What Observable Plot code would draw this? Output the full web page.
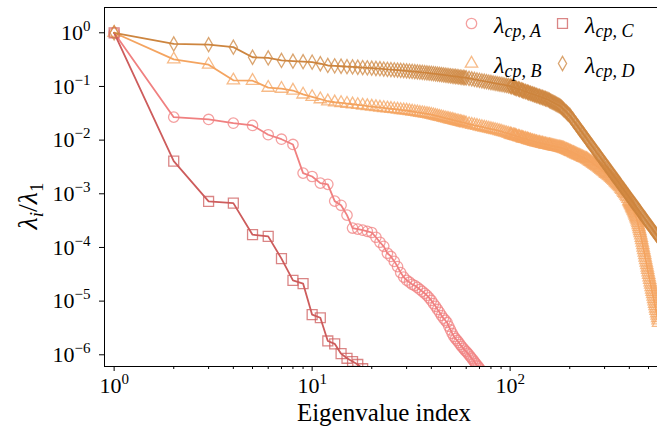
<!DOCTYPE html>
<html><head><meta charset="utf-8">
<script src="https://cdn.jsdelivr.net/npm/d3@7"></script>
<script src="https://cdn.jsdelivr.net/npm/@observablehq/plot@0.6"></script>
<style>
html,body{margin:0;padding:0;background:#fff;}
#chart{width:657px;height:432px;overflow:hidden;}
</style></head><body><div id="chart"></div>
<script>
// ---- data ----
const xDomain = [0.894, 555];
const yDomain = [6.05e-7, 2.96];
const xMajor = [1, 10, 100];
const xMinor = [2,3,4,5,6,7,8,9,20,30,40,50,60,70,80,90,200,300,400,500];
const yMajor = [1, 1e-1, 1e-2, 1e-3, 1e-4, 1e-5, 1e-6];

const xA = [1,2,3,4,5,6,7,8,9,10,11,12,13,14,15,16,17,18,19,20,21,22,23,24,25,26,27,28,29,30,31,32,33,34,35,36,37,38,39,40,41,42,43,44,45,46,47,48,49,50,51,52,53,54,55,56,57,58,59,60,61,62,63,64,65,66,67,68,69,70,71,72];
const yA = [1,0.0268,0.0243,0.0207,0.0188,0.0126,0.0104,0.0083,0.00243,0.0021,0.00158,0.0015,7.3e-4,6.1e-4,4.0e-4,2.3e-4,2.2e-4,2.1e-4,2.0e-4,1.9e-4,1.55e-4,1.25e-4,1.05e-4,7.8e-5,6.8e-5,5.5e-5,4.4e-5,3.4e-5,2.8e-5,2.45e-5,2.25e-5,2.05e-5,1.95e-5,1.8e-5,1.65e-5,1.52e-5,1.4e-5,1.28e-5,1.15e-5,1.03e-5,9.0e-6,8.0e-6,7.0e-6,6.2e-6,5.4e-6,4.8e-6,4.4e-6,4.0e-6,3.4e-6,2.9e-6,2.5e-6,2.2e-6,2.0e-6,1.85e-6,1.7e-6,1.55e-6,1.42e-6,1.32e-6,1.22e-6,1.15e-6,1.07e-6,1.0e-6,9.2e-7,8.6e-7,8.0e-7,7.4e-7,6.9e-7,6.4e-7,6.0e-7,5.6e-7,5.2e-7,4.8e-7];

const xB = [1,2,3,4,5,6,7,8,9,10,11,12,13,14,15,16,17,18,19,20,21,22,23,24,25,26,27,28,29,30,
  31,32,33,34,35,36,37,38,39,40,41,42,43,44,45,46,47,48,49,50,51,52,53,54,55,56,57,58,59,60,
  62,64,66,68,70,72,74,76,78,80,82,84,86,88,90,92,94,96,98,
  100,101,102,104,105,106,107,108,110,111,112,114,115,116,117,119,120,122,123,124,
  126,127,129,130,132,133,135,136,138,140,141,143,145,146,148,150,151,153,155,157,
  158,160,162,164,166,168,170,172,174,176,178,180,182,184,186,188,191,193,195,197,
  200,202,204,207,209,211,214,216,219,221,224,226,229,232,234,237,240,243,245,248,
  251,254,257,260,263,266,269,272,275,279,282,285,288,292,295,299,302,305,309,313,
  316,320,324,327,331,335,339,343,347,351,355,
  359,363,367,372,376,380,385,389,394,398,
  400,403,405,407,410,412,414,417,419,422,424,427,429,432,434,437,439,442,444,447,
  449,452,454,457,460,462,465,468,470,473,476,479,481,484,487,490,493,495,498,501,
  504,507,510,513,516,519,522,525,528,531,534,537,540,543,546,550,553,556,559,562];
const yB = [1,0.32,0.255,0.13,0.128,0.095,0.091,0.084,0.071,0.064,0.058,0.053,0.0508,0.0493,0.0478,0.0466,0.0454,0.0443,0.0431,0.0422,0.0413,0.0406,0.0398,0.0391,0.0384,0.0378,0.0372,0.0365,0.036,0.0356,
  0.0349,0.0342,0.0336,0.033,0.0324,0.0319,0.0314,0.0309,0.0304,0.0298,0.0292,0.0285,0.0279,0.0273,0.0268,0.0262,0.0257,0.0252,0.0248,0.0243,0.0239,0.0234,0.023,0.0226,0.0223,0.0219,0.0215,0.0212,0.0209,0.0205,
  0.0199,0.0194,0.0189,0.0185,0.018,0.0176,0.0172,0.0168,0.0165,0.0161,0.0158,0.0155,0.0152,0.0148,0.0145,0.0141,0.0138,0.0135,0.0132,
  0.0129,0.0127,0.0125,0.01235,0.0122,0.01205,0.0119,0.01175,0.0116,0.01145,0.0113,0.01115,0.011,0.01085,0.0107,0.0106,0.0105,0.01035,0.0102,0.01007,
  0.00995,0.00982,0.00969,0.00957,0.00945,0.00933,0.00921,0.0091,0.009,0.00891,0.00882,0.00873,0.00865,0.00857,0.00849,0.0084,0.00832,0.00824,0.00816,0.00808,
  0.00801,0.00793,0.00785,0.00777,0.0077,0.00762,0.00755,0.00748,0.00741,0.00734,0.00727,0.0072,0.00713,0.00705,0.00698,0.00684,0.00671,0.00658,0.00645,0.00632,
  0.0062,0.00608,0.00597,0.00585,0.00574,0.00562,0.00551,0.0054,0.0053,0.0052,0.0051,0.005,0.0049,0.0048,0.00471,0.00462,0.00453,0.00444,0.00435,0.00422,
  0.00409,0.00397,0.00386,0.00374,0.00363,0.00352,0.00342,0.00332,0.00322,0.00311,0.00301,0.00291,0.00281,0.00272,0.00263,0.00254,0.00245,0.00237,0.00229,0.00221,
  0.00214,0.00206,0.00199,0.0019,0.00182,0.00174,0.00166,0.00159,0.00152,0.00145,0.00139,
  0.00133,0.00126,0.00119,0.00112,0.00105,9.89e-4,9.3e-4,8.75e-4,8.04e-4,7.36e-4,
  7.04e-4,6.73e-4,6.44e-4,6.16e-4,5.89e-4,5.63e-4,5.38e-4,5.15e-4,4.9e-4,4.66e-4,4.4e-4,4.15e-4,3.92e-4,3.71e-4,3.5e-4,3.3e-4,3.06e-4,2.84e-4,2.61e-4,2.4e-4,
  2.21e-4,2.03e-4,1.85e-4,1.69e-4,1.52e-4,1.37e-4,1.23e-4,1.11e-4,9.96e-5,8.94e-5,8.04e-5,7.23e-5,6.5e-5,5.85e-5,5.26e-5,4.73e-5,4.25e-5,3.82e-5,3.44e-5,3.09e-5,
  2.78e-5,2.5e-5,2.25e-5,2.03e-5,1.83e-5,1.65e-5,1.49e-5,1.35e-5,1.22e-5,1.1e-5,9.93e-6,8.96e-6,8.09e-6,7.31e-6,6.6e-6,5.96e-6,5.38e-6,4.86e-6,4.39e-6,3.96e-6];

const xC = [1,2,3,4,5,6,7,8,9,10,11,12,13,14,15,16,17,18];
const yC = [1,4.06e-3,7.2e-4,6.7e-4,1.73e-4,1.61e-4,6.2e-5,2.44e-5,2.12e-5,5.6e-6,4.9e-6,1.81e-6,1.6e-6,1.05e-6,8.6e-7,7.5e-7,6.6e-7,5.5e-7];

const xD = [1,2,3,4,5,6,7,8,9,10,11,12,13,14,15,16,17,18,19,20,21,22,23,24,25,26,27,28,29,30,
  31,32,33,34,35,36,37,38,39,40,41,42,43,44,45,46,47,48,49,50,51,52,53,54,55,56,57,58,59,60,
  62,64,66,68,70,72,74,76,78,80,82,84,86,88,90,92,94,96,98,
  100,101,102,104,105,106,107,108,110,111,112,114,115,116,117,119,120,122,123,124,
  126,127,129,130,132,133,135,136,138,140,141,143,145,146,148,150,151,153,155,157,
  158,160,162,164,166,168,170,172,174,176,178,180,182,184,186,188,191,193,195,197,
  200,202,204,207,209,211,214,216,219,221,224,226,229,232,234,237,240,243,245,248,
  251,254,257,260,263,266,269,272,275,279,282,285,288,292,295,299,302,305,309,313,
  316,320,324,327,331,335,339,343,347,351,355,
  359,363,367,372,376,380,385,389,394,398,403,407,412,417,422,427,432,437,442,447,
  452,457,462,468,473,479,484,490,495,501,507,513,519,525,531,537,543,550,556,562,569,575];
const yD = [1,0.62,0.6,0.54,0.35,0.34,0.305,0.296,0.29,0.284,0.265,0.246,0.242,0.238,0.234,0.231,0.228,0.225,0.222,0.219,0.216,0.214,0.211,0.208,0.206,0.204,0.202,0.1995,0.1977,0.195,
  0.193,0.191,0.1885,0.1864,0.1844,0.1825,0.1806,0.1788,0.177,0.1754,0.1733,0.1713,0.1694,0.1676,0.1658,0.1641,0.1624,0.1608,0.1592,0.1577,0.1562,0.1548,0.1534,0.152,0.1507,0.1494,0.1481,0.1469,0.1457,0.1445,
  0.1413,0.1382,0.1353,0.1326,0.13,0.1275,0.1251,0.1228,0.1206,0.1185,0.1165,0.1146,0.1128,0.111,0.1093,0.1077,0.1061,0.1045,0.1031,
  0.1016,0.1001,0.0986,0.0971,0.0957,0.0942,0.0928,0.0914,0.0901,0.0887,0.0874,0.0861,0.0848,0.0835,0.0823,0.081,0.0798,0.0786,0.0775,0.0763,
  0.0752,0.074,0.0729,0.0718,0.0708,0.0697,0.0687,0.0676,0.0666,0.0656,0.0646,0.0636,0.0627,0.0618,0.0609,0.0599,0.059,0.0581,0.0573,0.056,
  0.0547,0.0534,0.0522,0.051,0.0499,0.0487,0.0476,0.0465,0.0455,0.0445,0.0435,0.0421,0.0407,0.039,0.0374,0.0359,0.0344,0.033,0.0316,0.0303,
  0.0291,0.0275,0.026,0.0245,0.0231,0.0218,0.0206,0.0194,0.0183,0.0173,0.0163,0.0154,0.0145,0.0137,0.0129,0.0122,0.0115,0.0108,0.0102,0.00962,
  0.00908,0.00857,0.00808,0.00762,0.00719,0.00678,0.0064,0.00603,0.00569,0.00537,0.00507,0.00478,0.00451,0.00425,0.00401,0.00378,0.00357,0.00337,0.00318,0.003,
  0.00283,0.00267,0.00251,0.00237,0.00224,0.00211,0.00199,0.00188,0.00177,0.00167,0.00158,
  0.00149,0.0014,0.00132,0.00125,0.00118,0.00111,0.00105,9.88e-4,9.32e-4,8.79e-4,8.29e-4,7.82e-4,7.38e-4,6.96e-4,6.57e-4,6.19e-4,5.84e-4,5.51e-4,5.2e-4,4.91e-4,
  4.63e-4,4.36e-4,4.12e-4,3.88e-4,3.66e-4,3.46e-4,3.26e-4,3.07e-4,2.9e-4,2.74e-4,2.58e-4,2.43e-4,2.3e-4,2.17e-4,2.04e-4,1.93e-4,1.82e-4,1.72e-4,1.62e-4,1.53e-4,1.44e-4,1.36e-4];

const seriesKeys = ["A", "B", "C", "D"];
const seriesColors = ["#F08080", "#F4A460", "#CD5C5C", "#CD853F"];
const seriesSymbols = ["circle", "triangle", "square", "diamond"];
const seriesR = [5.2, 4.6, 5.6, 4.3];
const xLabel = "Eigenvalue index";

// ---- build ----
const xs = [xA, xB, xC, xD], ys = [yA, yB, yC, yD];
xs.forEach((a, i) => { if (a.length !== ys[i].length) console.error("length mismatch", seriesKeys[i], a.length, ys[i].length); });
const series = seriesKeys.map((k, i) => ({
  key: k, color: seriesColors[i], symbol: seriesSymbols[i], r: seriesR[i],
  rows: xs[i].map((x, j) => ({x, y: ys[i][j]}))
}));

const FONT = "'Liberation Serif', 'DejaVu Serif', serif";
const marks = [];
for (const s of series) {
  marks.push(Plot.line(s.rows, {x: "x", y: "y", stroke: s.color, strokeWidth: 1.8, clip: true}));
  marks.push(Plot.dot(s.rows, {x: "x", y: "y", symbol: s.symbol, r: s.r, fill: "none",
    stroke: s.color, strokeOpacity: 0.75, strokeWidth: 1.3, clip: true}));
}
const fmt = d => "10^" + Math.round(Math.log10(d));
marks.push(
  Plot.axisX(xMajor, {tickSize: 5, tickPadding: 6, tickFormat: fmt, label: null, fontSize: 22}),
  Plot.axisX(xMinor, {tickSize: 3, tickFormat: () => "", label: null}),
  Plot.axisY(yMajor, {tickSize: 5, tickPadding: 9, tickFormat: fmt, label: null, fontSize: 22}),
  Plot.ruleX([xDomain[0]], {stroke: "#000", strokeWidth: 1}),
  Plot.ruleY([yDomain[0]], {stroke: "#000", strokeWidth: 1}),
  Plot.ruleY([yDomain[1]], {stroke: "#000", strokeWidth: 1})
);

const svg = Plot.plot({
  width: 657, height: 432,
  marginLeft: 104, marginRight: 0, marginTop: 7, marginBottom: 66,
  x: {type: "log", domain: xDomain},
  y: {type: "log", domain: yDomain},
  style: {fontFamily: FONT, fontSize: "22px", color: "#000", background: "#fff", overflow: "hidden"},
  marks
});
document.getElementById("chart").appendChild(svg);

// superscript exponents on tick labels
svg.querySelectorAll('g[aria-label="x-axis tick label"] text, g[aria-label="y-axis tick label"] text').forEach(t => {
  const s = t.textContent;
  if (!s || s.indexOf("^") < 0) return;
  const [base, exp] = s.split("^");
  t.textContent = "";
  const ns = "http://www.w3.org/2000/svg";
  const b = document.createElementNS(ns, "tspan"); b.textContent = base; t.appendChild(b);
  const e = document.createElementNS(ns, "tspan");
  e.textContent = exp.replace("-", "\u2212");
  e.setAttribute("font-size", "15px"); e.setAttribute("dy", "-9");
  t.appendChild(e);
});

const g = d3.select(svg).append("g").style("font-family", FONT).attr("fill", "#000");
// x label
g.append("text").attr("x", 384).attr("y", 421).attr("text-anchor", "middle")
  .style("font-size", "25px").text(xLabel);
// y label
const yl = g.append("text").attr("transform", "translate(37,206) rotate(-90)")
  .attr("text-anchor", "middle").style("font-size", "28px");
yl.append("tspan").attr("font-style", "italic").text("λ");
yl.append("tspan").attr("font-style", "italic").attr("font-size", "19px").attr("dy", 6).text("i");
yl.append("tspan").attr("dy", -6).text("/");
yl.append("tspan").attr("font-style", "italic").text("λ");
yl.append("tspan").attr("font-size", "19px").attr("dy", 6).text("1");

// legend (2 columns, column-major: A,B | C,D)
const symMap = {circle: d3.symbolCircle, triangle: d3.symbolTriangle, square: d3.symbolSquare, diamond: d3.symbolDiamond};
const legPos = [[471.5, 23.5], [471.5, 63.5], [562.5, 23.5], [562.5, 63.5]];
series.forEach((s, i) => {
  const [mx, my] = legPos[i];
  g.append("path").attr("transform", `translate(${mx},${my})`)
    .attr("d", d3.symbol(symMap[s.symbol], Math.PI * s.r * s.r)())
    .attr("fill", "none").attr("stroke", s.color).attr("stroke-opacity", 0.75).attr("stroke-width", 1.3);
  const t = g.append("text").attr("x", mx + 22.5).attr("y", my + 9.5)
    .attr("text-anchor", "start").style("font-size", "24px");
  t.append("tspan").attr("font-style", "italic").text("λ");
  t.append("tspan").attr("font-style", "italic").attr("font-size", "18px").attr("dy", 4).text("cp, " + s.key);
});
</script></body></html>
